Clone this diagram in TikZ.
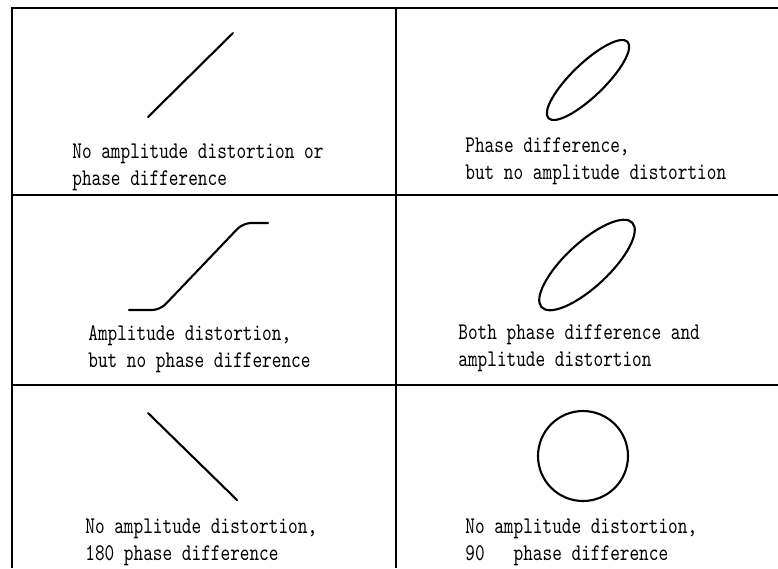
\documentclass[tikz,border=0pt]{standalone}
\usepackage{fontspec}
\usepackage{tikz}
\usetikzlibrary{positioning}
\newfontfamily\cellfont{lmmono10-regular.otf}[FakeStretch=0.77]
\tikzset{
  rule/.style    = {line width=0.7pt},
  trace/.style   = {line width=1.2pt, line cap=round, line join=round},
  caption/.style = {anchor=base west, align=left, inner sep=0pt,
                    font=\cellfont\fontsize{13.6}{15}\selectfont},
}
\begin{document}
\begin{tikzpicture}
  \useasboundingbox (0,0) rectangle (15.56,-11.36);
  % ---- table rules
  \coordinate (tl) at (0.24,-0.16);
  \coordinate (tr) at (15.56,-0.16);
  \coordinate (bl) at (0.24,-11.36);
  \coordinate (tm) at (7.92,-0.16);
  \coordinate (bm) at (7.92,-11.36);
  \coordinate (r1l) at (0.24,-3.90);
  \coordinate (r1r) at (15.56,-3.90);
  \coordinate (r2l) at (0.24,-7.70);
  \coordinate (r2r) at (15.56,-7.70);
  \draw[rule] (bl) -- (tl) -- (tr);
  \draw[rule] (tm) -- (bm);
  \draw[rule] (r1l) -- (r1r);
  \draw[rule] (r2l) -- (r2r);
  % ---- no distortion, in phase
  \draw[trace] (2.96,-2.34) -- (4.66,-0.66);
  \node[caption] (c1) at (1.44,-3.70) {No amplitude distortion or\\phase difference};
  % ---- phase difference only
  \draw[trace] (11.76,-1.60) ellipse[x radius=1.10, y radius=0.33, rotate=44];
  \node[caption] (c2) at (9.30,-3.58) {Phase difference,\\but no amplitude distortion};
  % ---- amplitude distortion only
  \draw[trace, rounded corners=0.16cm] (2.58,-6.20) -- (3.20,-6.20) -- (4.86,-4.46) -- (5.36,-4.46);
  \node[caption] (c3) at (1.76,-7.34) {Amplitude distortion,\\but no phase difference};
  % ---- both
  \draw[trace] (11.74,-5.30) ellipse[x radius=1.24, y radius=0.44, rotate=43];
  \node[caption] (c4) at (9.16,-7.32) {Both phase difference and\\amplitude distortion};
  % ---- 180 degrees
  \draw[trace] (2.96,-8.26) -- (4.74,-10.00);
  \node[caption] (c5) at (1.70,-11.20) {No amplitude distortion,\\180 phase difference};
  % ---- 90 degrees
  \draw[trace] (11.66,-9.12) circle[radius=0.90];
  \node[caption] (c6) at (9.30,-11.20) {No amplitude distortion,\\90~~~phase difference};
\end{tikzpicture}
\end{document}
